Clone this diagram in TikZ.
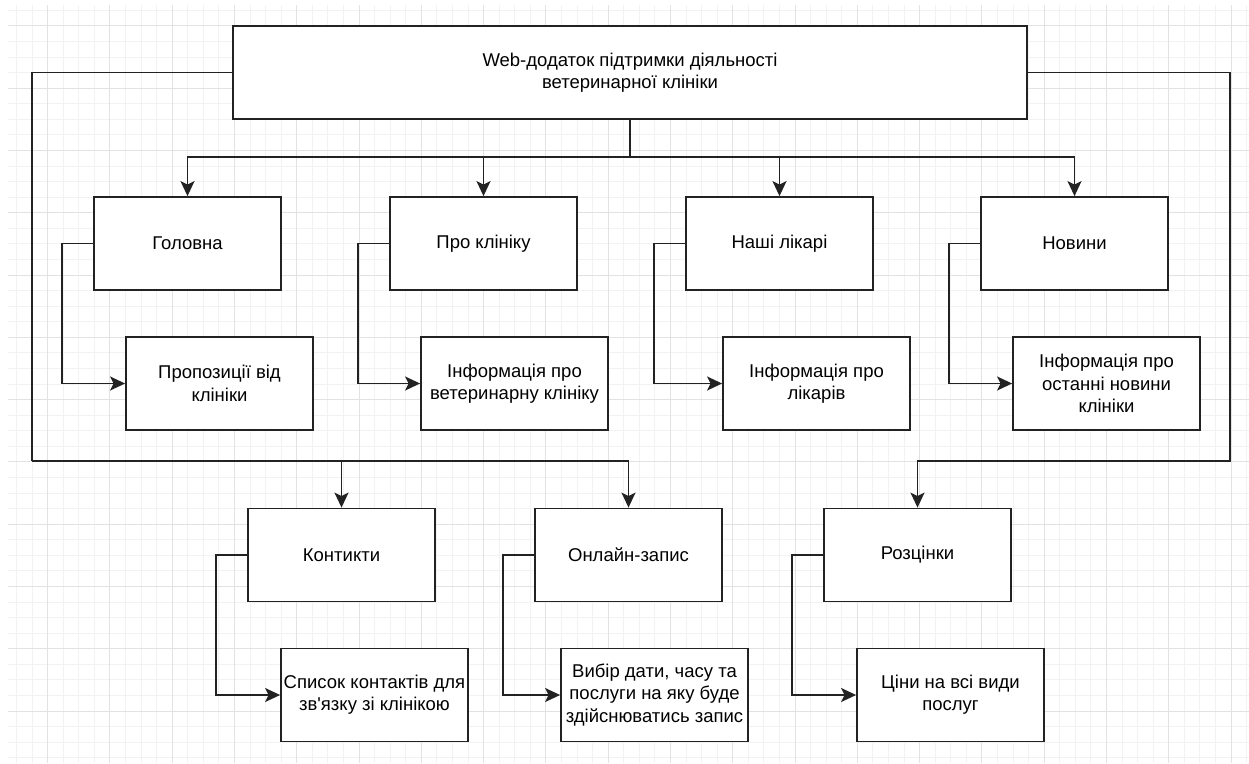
\documentclass[tikz,border=0pt]{standalone}
\usepackage{fontspec}
\setmainfont{Liberation Sans}
\usetikzlibrary{arrows.meta}

\definecolor{edge}{HTML}{222222}
\definecolor{gridminor}{HTML}{F2F2F2}
\definecolor{gridmajor}{HTML}{E2E2E2}

\tikzset{
  box/.style={draw=edge, line width=1.8pt, fill=white, rectangle,
    minimum width=187pt, minimum height=93pt, inner sep=0pt,
    align=center, font=\fontsize{18.5}{22.4}\selectfont},
  link/.style={draw=edge, line width=1.8pt},
  arr/.style={link, -{Stealth[length=15pt,width=14pt,inset=3.5pt,fill=edge]}},
  minorline/.style={draw=gridminor, line width=1pt},
  majorline/.style={draw=gridmajor, line width=1pt}
}

\begin{document}
\begin{tikzpicture}[x=1pt,y=-1pt]
\useasboundingbox (0,0) rectangle (1249,763);
\fill[white] (0,0) rectangle (1249,763);

% background grid
\begin{scope}
  \clip (8,5) rectangle (1249,763);
  \foreach \i in {0,...,82} {
    \draw[minorline] ({-14.6+15.57*\i},0) -- ({-14.6+15.57*\i},763);
  }
  \foreach \i in {0,...,52} {
    \draw[minorline] (0,{-36.3+15.57*\i}) -- (1249,{-36.3+15.57*\i});
  }
  \foreach \i in {0,...,21} {
    \draw[majorline] ({-14.6+62.28*\i},0) -- ({-14.6+62.28*\i},763);
  }
  \foreach \i in {0,...,13} {
    \draw[majorline] (0,{-36.3+62.28*\i}) -- (1249,{-36.3+62.28*\i});
  }
\end{scope}

% root
\node[box, minimum width=794pt] (root) at (630,72.5)
  {Web-додаток підтримки діяльності\\ветеринарної клініки};

% first level
\node[box] (home)  at (187.5,243.5) {Головна};
\node[box] (about) at (483.5,243.5) {Про клініку};
\node[box] (docs)  at (779.5,243.5) {Наші лікарі};
\node[box] (news)  at (1074.5,243.5) {Новини};

\node[box] (homeD)  at (219.5,383.5)  {Пропозиції від\\клініки};
\node[box] (aboutD) at (514.5,383.5)  {Інформація про\\ветеринарну клініку};
\node[box] (docsD)  at (816.5,383.5)  {Інформація про\\лікарів};
\node[box] (newsD)  at (1106.5,383.5) {Інформація про\\останні новини\\клініки};

% second level
\node[box] (cont)  at (341.5,555) {Контикти};
\node[box] (book)  at (628.5,555) {Онлайн-запис};
\node[box] (price) at (917.5,555) {Розцінки};

\node[box] (contD)  at (374.5,695) {Список контактів для\\зв\textquotesingle язку зі клінікою};
\node[box] (bookD)  at (654.5,695) {Вибір дати, часу та\\послуги на яку буде\\здійснюватись запис};
\node[box] (priceD) at (950.5,695) {Ціни на всі види\\послуг};

% bus below the root
\coordinate (bus) at (630,157);
\draw[link] (root.south) -- (bus);
\foreach \n in {home,about,docs,news} {
  \draw[arr] (bus) -| (\n.north);
}

% loops around the first level
\coordinate (lbus) at (32,461);
\coordinate (rbus) at (1230,461);
\draw[link] (root.west) -| (lbus);
\draw[arr] (lbus) -| (cont.north);
\draw[arr] (lbus) -| (book.north);
\draw[arr] (root.east) -| (rbus) -| (price.north);

% page to detail connectors
\foreach \p/\d in {home/homeD,about/aboutD,docs/docsD,news/newsD,cont/contD,book/bookD,price/priceD} {
  \draw[arr] (\p.west) -- ++(-31,0) |- (\d.west);
}
\end{tikzpicture}
\end{document}
